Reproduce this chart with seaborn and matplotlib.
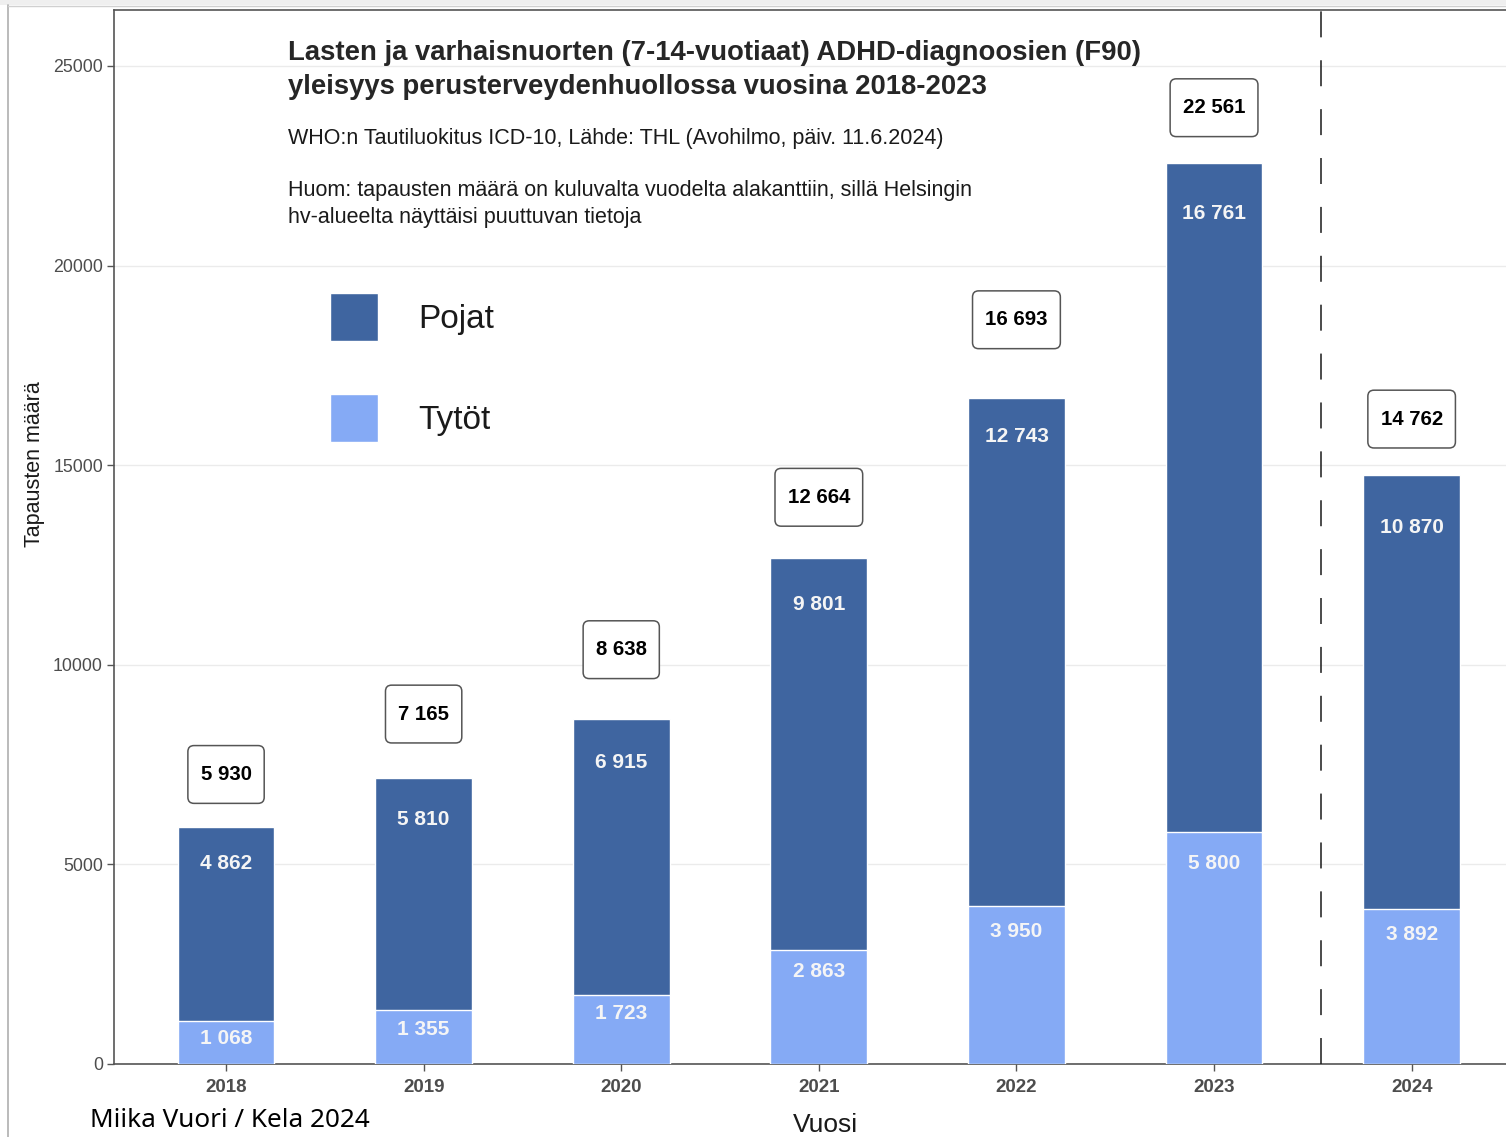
import numpy as np
import pandas as pd
import matplotlib
matplotlib.use('Agg')
import matplotlib.pyplot as plt
from matplotlib.patches import Rectangle, BoxStyle
from matplotlib.lines import Line2D
import seaborn as sns

years = ['2018', '2019', '2020', '2021', '2022', '2023', '2024']
girls = [1068, 1355, 1723, 2863, 3950, 5800, 3892]
boys = [4862, 5810, 6915, 9801, 12743, 16761, 10870]
totals = [5930, 7165, 8638, 12664, 16693, 22561, 14762]
series_names = ['Pojat', 'Tytöt']
y_ticks = [0, 5000, 10000, 15000, 20000, 25000]

title_lines = ['Lasten ja varhaisnuorten (7-14-vuotiaat) ADHD-diagnoosien (F90)',
               'yleisyys perusterveydenhuollossa vuosina 2018-2023']
source_text = 'WHO:n Tautiluokitus ICD-10, Lähde: THL (Avohilmo, päiv. 11.6.2024)'
note_lines = ['Huom: tapausten määrä on kuluvalta vuodelta alakanttiin, sillä Helsingin',
              'hv-alueelta näyttäisi puuttuvan tietoja']

# label offsets in points (labels were placed by hand in the original)
total_off = [38, 46, 50, 44, 56, 40, 40]
boys_off = [26, 30, 31, 33, 28, 36, 38]
girls_off = [12, 14, 13.5, 16, 18.5, 22.5, 18.3]

DARK = '#3f65a0'
LIGHT = '#85aaf5'
W, H = 1506, 1137


def fx(px):
    return px / W


def fy(py):
    return 1 - py / H


def fmt(v):
    return f'{v:,}'.replace(',', ' ')


_round = BoxStyle.Round(pad=0, rounding_size=0.3)


def label_box(x0, y0, width, height, mutation_size):
    # rounded box with more vertical than horizontal padding
    px, py = 0.62 * mutation_size, 0.95 * mutation_size
    return _round(x0 - px, y0 - py, width + 2 * px, height + 2 * py, mutation_size)


sns.set_style('white')
plt.rcParams['font.family'] = ['Liberation Sans', 'DejaVu Sans']

df = pd.DataFrame({'year': years, 'girls': girls, 'boys': boys, 'total': totals})

fig = plt.figure(figsize=(W / 100, H / 100), dpi=100)
fig.patches.append(Rectangle((0, fy(5)), 1, 5 / H, transform=fig.transFigure,
                             facecolor='#efefef', edgecolor='none', zorder=0))
fig.lines.append(Line2D([fx(8), fx(8)], [0, fy(5)], transform=fig.transFigure,
                        color='#b5b5b5', lw=1.3))
fig.lines.append(Line2D([fx(8), 1], [fy(6), fy(6)], transform=fig.transFigure,
                        color='#d0d0d0', lw=1.0))

ax = fig.add_axes([fx(114), fy(1064), (1534 - 114) / W, (1064 - 10) / H])

# stacked bars: total (boys on top) drawn first, girls over it
sns.barplot(data=df, x='year', y='total', color=DARK, saturation=1, width=0.49,
            label=series_names[0], ax=ax, zorder=2)
sns.barplot(data=df, x='year', y='girls', color=LIGHT, saturation=1, width=0.49,
            edgecolor='white', linewidth=1.0, label=series_names[1], ax=ax, zorder=3)

ax.set_xlim(-0.567, -0.567 + 1420 / 197.6)
ax.set_ylim(0, 26400)
ax.set_yticks(y_ticks)
ax.set_yticklabels([str(t) for t in y_ticks])
ax.yaxis.grid(True, color='#ebebeb', lw=1.0, zorder=0)
ax.xaxis.grid(False)
ax.set_axisbelow(True)
for s in ax.spines.values():
    s.set_color('#555555')
    s.set_linewidth(1.2)
ax.tick_params(axis='y', length=5, width=1, color='#555555', labelsize=12.8,
               labelcolor='#4d4d4d', pad=3, left=True)
ax.tick_params(axis='x', length=5, width=1, color='#555555', labelsize=13.5,
               labelcolor='#4d4d4d', pad=6, bottom=True)
for lab in ax.get_xticklabels():
    lab.set_fontweight('bold')
ax.set_xlabel('')
ax.set_ylabel('')

ax.axvline(5.54, color='#1a1a1a', lw=1.1, linestyle=(0, (17, 15)), zorder=4)

for i, (g, b, t) in enumerate(zip(girls, boys, totals)):
    ax.annotate(fmt(t), xy=(i, t), xytext=(0, total_off[i]), textcoords='offset points',
                ha='center', va='center', fontsize=14.7, fontweight='bold', color='black',
                bbox=dict(boxstyle=label_box, fc='white', ec='#555555', lw=1.1), zorder=5)
    ax.annotate(fmt(b), xy=(i, t), xytext=(0, -boys_off[i]), textcoords='offset points',
                ha='center', va='center', fontsize=15, fontweight='bold', color='#f5f5f5',
                zorder=5)
    ax.annotate(fmt(g), xy=(i, g), xytext=(0, -girls_off[i]), textcoords='offset points',
                ha='center', va='center', fontsize=15, fontweight='bold', color='#f5f5f5',
                zorder=5)

leg = ax.legend(loc='upper left', bbox_to_anchor=(fx(330), fy(293)),
                bbox_transform=fig.transFigure, frameon=False, fontsize=24,
                handlelength=1.44, handleheight=1.84, handletextpad=1.2,
                labelspacing=1.59, borderpad=0, borderaxespad=0)
for txt in leg.get_texts():
    txt.set_color('#1a1a1a')

fig.text(fx(288), fy(60), title_lines[0], fontsize=19.85, fontweight='bold', va='baseline')
fig.text(fx(288), fy(94), title_lines[1], fontsize=19.85, fontweight='bold', va='baseline')
fig.text(fx(288), fy(144), source_text, fontsize=15.5, color='#1a1a1a', va='baseline')
fig.text(fx(288), fy(196), note_lines[0], fontsize=15.5, color='#1a1a1a', va='baseline')
fig.text(fx(288), fy(223), note_lines[1], fontsize=15.5, color='#1a1a1a', va='baseline')

fig.text(fx(35), fy(464), 'Tapausten määrä', rotation=90, fontsize=15.5,
         color='#1a1a1a', ha='center', va='center')
fig.text(fx(825), fy(1132), 'Vuosi', fontsize=19, color='#1a1a1a', ha='center',
         va='baseline')
fig.text(fx(90), fy(1127), 'Miika Vuori / Kela 2024', fontsize=18.8, color='black',
         family=['Noto Sans', 'DejaVu Sans'], va='baseline')

fig.savefig('out.png', dpi=100)
